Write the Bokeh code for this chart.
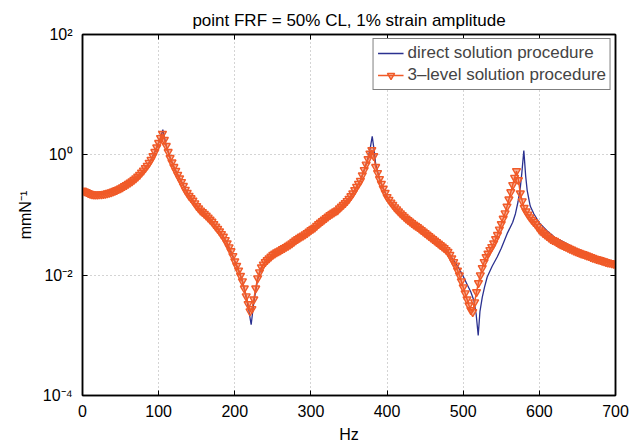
from bokeh.plotting import figure
from bokeh.models import (LogAxis, LinearAxis, FixedTicker, Legend, LegendItem)
from bokeh.embed import file_html
from bokeh.resources import INLINE

# ---- data ----
freq_direct = [0, 10, 20, 30, 40, 50, 60, 70, 80, 85, 90, 95, 100, 103, 105.5, 108, 110,
               115, 120, 125, 130, 140, 150, 160, 170, 180, 190, 200, 205, 210, 215, 218,
               221.5, 225, 230, 235, 240, 250, 260, 270, 280, 290, 300, 310, 320, 330,
               340, 350, 355, 360, 365, 370, 375, 378, 380.5, 383, 385, 390, 395, 400,
               410, 420, 430, 440, 450, 460, 470, 480, 490, 495, 500, 505, 510, 514, 517,
               519.7, 522, 525, 528, 531.5, 538, 544.6, 550, 557.7, 565, 568.6, 572, 575,
               577, 579.6, 582, 584, 588, 592.7, 600, 610, 620, 636.6, 650, 667, 680, 700]
frf_direct = [0.255, 0.226, 0.219, 0.226, 0.245, 0.279, 0.331, 0.407, 0.550, 0.661, 0.832,
              1.12, 1.58, 2.0, 2.63, 1.86, 1.41, 0.891, 0.631, 0.468, 0.355, 0.209, 0.141,
              0.105, 0.0776, 0.0537, 0.0339, 0.0170, 0.0120, 0.00794, 0.00427, 0.00282,
              0.00150, 0.00355, 0.00851, 0.0135, 0.0166, 0.0219, 0.0260, 0.0309, 0.0380,
              0.0457, 0.0562, 0.0708, 0.0891, 0.110, 0.138, 0.186, 0.229, 0.295, 0.372,
              0.562, 0.891, 1.32, 2.02, 1.20, 0.708, 0.398, 0.275, 0.200, 0.135, 0.100,
              0.0776, 0.0631, 0.0501, 0.0398, 0.0316, 0.0240, 0.0158, 0.0126, 0.00955,
              0.00708, 0.00525, 0.00380, 0.00224, 0.00100, 0.00251, 0.00427, 0.00631,
              0.00933, 0.0141, 0.0200, 0.0280, 0.0490, 0.0759, 0.105, 0.166, 0.288, 0.501,
              1.18, 0.447, 0.257, 0.141, 0.105, 0.0741, 0.0550, 0.0427, 0.0331, 0.0263,
              0.0221, 0.0191, 0.0155]

freq_3level = [
    0, 2.5, 5, 7.5, 10, 12.5, 15, 17.5, 20, 22.5, 25, 27.5, 30, 32.5, 35, 37.5, 40, 42.5,
    45, 47.5, 50, 52.5, 55, 57.5, 60, 62.5, 65, 67.5, 70, 72.5, 75, 77.5, 80, 82.5, 85,
    87.5, 90, 92.5, 95, 97.5, 100, 102.5, 105, 107.5, 110, 112.5, 115, 117.5, 120, 122.5,
    125, 127.5, 130, 132.5, 135, 137.5, 140, 142.5, 145, 147.5, 150, 152.5, 155, 157.5,
    160, 162.5, 165, 167.5, 170, 172.5, 175, 177.5, 180, 182.5, 185, 187.5, 190, 192.5,
    195, 197.5, 200, 202.5, 205, 207.5, 210, 212.5, 215, 217.5, 220, 222.5, 225, 227.5,
    230, 232.5, 235, 237.5, 240, 242.5, 245, 247.5, 250, 252.5, 255, 257.5, 260, 262.5,
    265, 267.5, 270, 272.5, 275, 277.5, 280, 282.5, 285, 287.5, 290, 292.5, 295, 297.5,
    300, 302.5, 305, 307.5, 310, 312.5, 315, 317.5, 320, 322.5, 325, 327.5, 330, 332.5,
    335, 337.5, 340, 342.5, 345, 347.5, 350, 352.5, 355, 357.5, 360, 362.5, 365, 367.5,
    370, 372.5, 375, 377.5, 380, 382.5, 385, 387.5, 390, 392.5, 395, 397.5, 400, 402.5,
    405, 407.5, 410, 412.5, 415, 417.5, 420, 422.5, 425, 427.5, 430, 432.5, 435, 437.5,
    440, 442.5, 445, 447.5, 450, 452.5, 455, 457.5, 460, 462.5, 465, 467.5, 470, 472.5,
    475, 477.5, 480, 482.5, 485, 487.5, 490, 492.5, 495, 497.5, 500, 502.5, 505, 507.5,
    510, 512.5, 515, 517.5, 520, 522.5, 525, 527.5, 530, 532.5, 535, 537.5, 540, 542.5,
    545, 547.5, 550, 552.5, 555, 557.5, 560, 562.5, 565, 567.5, 570, 572.5, 575, 577.5,
    580, 582.5, 585, 587.5, 590, 592.5, 595, 597.5, 600, 602.5, 605, 607.5, 610, 612.5,
    615, 617.5, 620, 622.5, 625, 627.5, 630, 632.5, 635, 637.5, 640, 642.5, 645, 647.5,
    650, 652.5, 655, 657.5, 660, 662.5, 665, 667.5, 670, 672.5, 675, 677.5, 680, 682.5,
    685, 687.5, 690, 692.5, 695, 697.5, 700]
frf_3level = [
    0.255, 0.247, 0.240, 0.232, 0.226, 0.222, 0.219, 0.218, 0.219, 0.220, 0.221, 0.223,
    0.226, 0.230, 0.234, 0.239, 0.245, 0.252, 0.260, 0.269, 0.279, 0.290, 0.302, 0.316,
    0.331, 0.347, 0.363, 0.384, 0.407, 0.436, 0.468, 0.507, 0.550, 0.603, 0.661, 0.741,
    0.832, 0.955, 1.12, 1.33, 1.58, 1.91, 2.24, 1.78, 1.41, 1.12, 0.891, 0.750, 0.631,
    0.543, 0.468, 0.407, 0.355, 0.305, 0.263, 0.234, 0.209, 0.191, 0.174, 0.157, 0.141,
    0.129, 0.119, 0.112, 0.105, 0.0977, 0.0912, 0.0841, 0.0776, 0.0708, 0.0646, 0.0589,
    0.0537, 0.0484, 0.0437, 0.0385, 0.0339, 0.0292, 0.0251, 0.0209, 0.0170, 0.0143,
    0.0120, 0.00977, 0.00794, 0.00603, 0.00447, 0.00331, 0.00251, 0.00275, 0.00398,
    0.00603, 0.00891, 0.0112, 0.0135, 0.0151, 0.0166, 0.0178, 0.0191, 0.0204, 0.0219,
    0.0229, 0.0240, 0.0250, 0.0260, 0.0271, 0.0282, 0.0295, 0.0309, 0.0324, 0.0339,
    0.0359, 0.0380, 0.0398, 0.0417, 0.0437, 0.0457, 0.0479, 0.0501, 0.0531, 0.0562,
    0.0589, 0.0617, 0.0661, 0.0708, 0.0750, 0.0794, 0.0841, 0.0891, 0.0944, 0.100, 0.105,
    0.110, 0.115, 0.120, 0.129, 0.138, 0.148, 0.158, 0.171, 0.186, 0.206, 0.229, 0.260,
    0.295, 0.331, 0.372, 0.457, 0.562, 0.692, 0.851, 1.05, 1.20, 0.955, 0.631, 0.501,
    0.398, 0.331, 0.275, 0.234, 0.200, 0.180, 0.162, 0.148, 0.135, 0.125, 0.115, 0.107,
    0.100, 0.0933, 0.0871, 0.0822, 0.0776, 0.0733, 0.0692, 0.0661, 0.0631, 0.0596,
    0.0562, 0.0531, 0.0501, 0.0473, 0.0447, 0.0422, 0.0398, 0.0376, 0.0355, 0.0335,
    0.0316, 0.0299, 0.0282, 0.0263, 0.0245, 0.0219, 0.0191, 0.0166, 0.0145, 0.0120,
    0.0100, 0.00794, 0.00631, 0.00501, 0.00398, 0.00316, 0.00263, 0.00245, 0.00355,
    0.00525, 0.00741, 0.0100, 0.0132, 0.0166, 0.0200, 0.0229, 0.0263, 0.0295, 0.0339,
    0.0398, 0.0468, 0.0575, 0.0708, 0.0871, 0.107, 0.138, 0.182, 0.240, 0.316, 0.417,
    0.537, 0.380, 0.229, 0.170, 0.132, 0.115, 0.102, 0.0920, 0.0832, 0.0767, 0.0708,
    0.0638, 0.0575, 0.0537, 0.0501, 0.0473, 0.0447, 0.0422, 0.0398, 0.0385, 0.0372,
    0.0355, 0.0339, 0.0327, 0.0316, 0.0305, 0.0295, 0.0285, 0.0275, 0.0266, 0.0257,
    0.0250, 0.0243, 0.0236, 0.0229, 0.0224, 0.0219, 0.0213, 0.0207, 0.0201, 0.0195,
    0.0190, 0.0186, 0.0182, 0.0178, 0.0174, 0.0170, 0.0166, 0.0162, 0.0160, 0.0158,
    0.0155, 0.0151]

x_ticks = [0, 100, 200, 300, 400, 500, 600, 700]
y_ticks = [1e-4, 1e-2, 1, 1e2]
y_tick_labels = {1e-4: "10\u207b\u2074", 1e-2: "10\u207b\u00b2", 1: "10\u2070", 1e2: "10\u00b2"}
title_text = "point FRF = 50% CL, 1% strain amplitude"
x_label = "Hz"
y_label = "mmN\u207b\u00b9"
series_names = ["direct solution procedure", "3\u2013level solution procedure"]

BLUE = "#2b3190"
ORANGE = "#f05a28"
FONT = "Liberation Sans"

p = figure(width=629, height=445, y_axis_type="log", x_range=(0, 700), y_range=(1e-4, 1e2),
           output_backend="svg", toolbar_location=None,
           min_border_left=82, min_border_right=14, min_border_top=34, min_border_bottom=50)

p.title.text = title_text
p.title.align = "center"
p.title.text_font = FONT
p.title.text_font_size = "17px"
p.title.text_font_style = "normal"
p.title.text_color = "black"

p.outline_line_color = "black"
p.outline_line_width = 1.5
p.background_fill_color = "white"
p.border_fill_color = "white"

for ax in (p.xaxis[0], p.yaxis[0]):
    ax.major_tick_in = 5
    ax.major_tick_out = 0
    ax.minor_tick_line_color = None
    ax.axis_line_color = "black"
    ax.axis_line_width = 1.5
    ax.major_tick_line_color = "black"
    ax.major_label_text_font = FONT
    ax.major_label_text_font_size = "16px"
    ax.major_label_text_color = "black"
    ax.axis_label_text_font = FONT
    ax.axis_label_text_font_size = "16px"
    ax.axis_label_text_font_style = "normal"
    ax.axis_label_text_color = "black"

p.xaxis.ticker = FixedTicker(ticks=x_ticks)
p.yaxis.ticker = FixedTicker(ticks=y_ticks, minor_ticks=[])
p.yaxis.major_label_overrides = y_tick_labels
p.xaxis.axis_label = x_label
p.yaxis.axis_label = y_label
p.xaxis.major_label_standoff = 9
p.xaxis.axis_label_standoff = 6
p.yaxis.major_label_standoff = 10
p.yaxis.axis_label_standoff = 6

p.xgrid.ticker = FixedTicker(ticks=x_ticks)
p.ygrid.ticker = FixedTicker(ticks=y_ticks, minor_ticks=[])
for g in (p.xgrid[0], p.ygrid[0]):
    g.grid_line_color = "#a8a8a8"
    g.grid_line_dash = "1 3"
    g.grid_line_width = 1

top_axis = LinearAxis(ticker=FixedTicker(ticks=x_ticks), major_tick_in=5, major_tick_out=0,
                      minor_tick_line_color=None, major_label_text_font_size="1px",
                      major_label_text_color=None, major_label_standoff=0,
                      axis_line_width=1.5)
right_axis = LogAxis(ticker=FixedTicker(ticks=y_ticks, minor_ticks=[]), major_tick_in=5,
                     major_tick_out=0, minor_tick_line_color=None,
                     major_label_text_font_size="1px", major_label_text_color=None,
                     major_label_standoff=0, axis_line_width=1.5)
p.add_layout(top_axis, "above")
p.add_layout(right_axis, "right")

r_direct = p.line(freq_direct, frf_direct, line_color=BLUE, line_width=1.3)
r_3line = p.line(freq_3level, frf_3level, line_color=ORANGE, line_width=1.5)
r_3mark = p.scatter(freq_3level, frf_3level, marker="inverted_triangle", size=8,
                    line_color=ORANGE, line_width=1.4, fill_color=ORANGE, fill_alpha=0.45)

legend = Legend(items=[LegendItem(label=series_names[0], renderers=[r_direct]),
                       LegendItem(label=series_names[1], renderers=[r_3line, r_3mark])],
                location="top_right", margin=4, padding=4, spacing=2,
                glyph_width=26, glyph_height=18, label_standoff=4,
                label_text_font=FONT, label_text_font_size="17px",
                border_line_color="black", border_line_width=1.2,
                background_fill_alpha=1.0)
p.add_layout(legend)

open("out.html", "w").write(file_html(p, INLINE))
